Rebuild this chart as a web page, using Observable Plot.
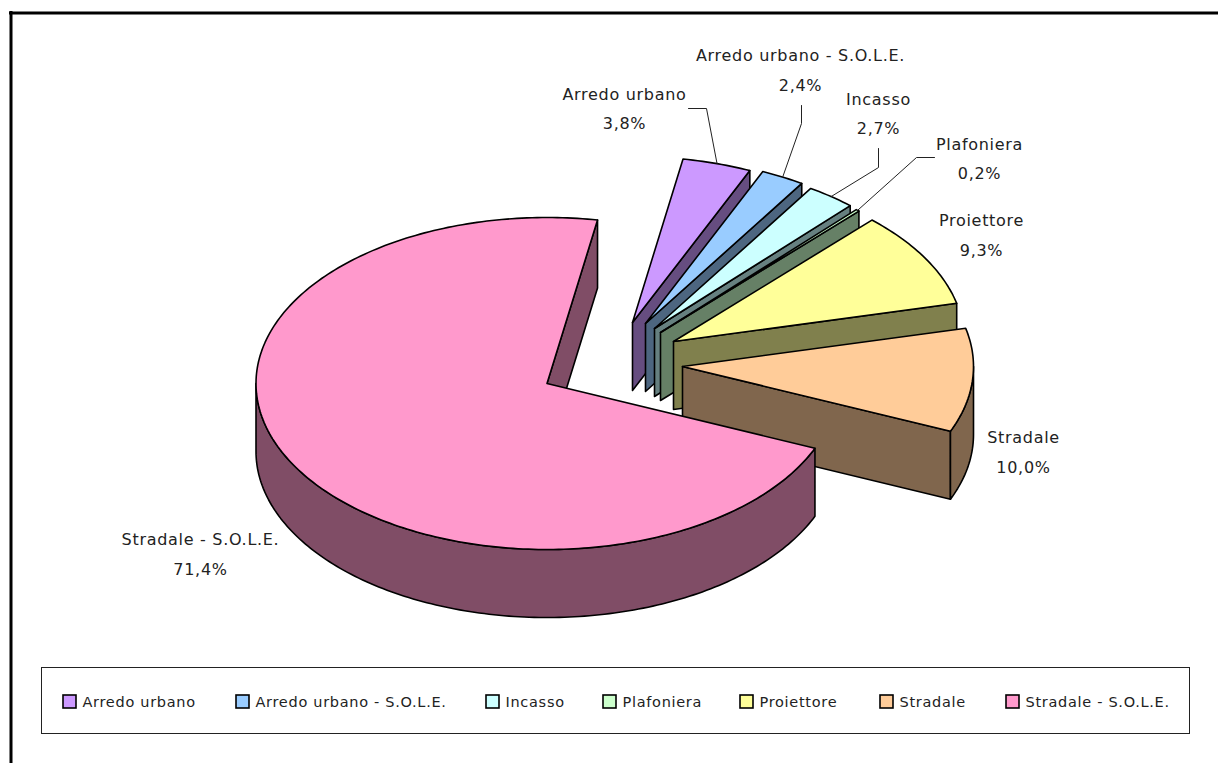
<!DOCTYPE html>
<html>
<head>
<meta charset="utf-8">
<script src="https://cdn.jsdelivr.net/npm/d3@7"></script>
<script src="https://cdn.jsdelivr.net/npm/@observablehq/plot@0.6"></script>
<style>
html,body{margin:0;padding:0;background:#fff}
svg{display:block}
.spaced text{letter-spacing:.7px}
</style>
</head>
<body>
<div id="chart"></div>
<script>
// Data
const names = ["Arredo urbano","Arredo urbano - S.O.L.E.","Incasso","Plafoniera","Proiettore","Stradale","Stradale - S.O.L.E."];
const shares = [3.8,2.4,2.7,0.2,9.3,10.0,71.4];
const colors = ["#CC99FF","#99CCFF","#CCFFFF","#CCFFCC","#FFFF99","#FFCC99","#FF99CC"];

// Layout of the drawing
const W = 1218, H = 763;
const rx = 291, ry = 166, depth = 68, firstAngle = 10;
const apexX = [632,645,654,660,673,682,546.5];
const apexY = [322,323,328,332,341,366,383];
const labelX = [624,800,878,979,981,1023,200];
const labelY = [104.5,66,109.5,154.5,231,448,550];
const leaderBends = [
  [[688,108],[706,108]],
  [[801,105],[801,123]],
  [[878,148],[878,167]],
  [[934,157],[916,157]],
  [],[],[]
];
const legendKeyX = [63,236,486,603,740,880,1006];
const FONT = "'DejaVu Sans',sans-serif";

// Shares are rounded to one decimal, so the small slices split what the large one leaves
const big = shares[6];
const smallScale = (100-big)/d3.sum(shares.slice(0,6));
let acc = firstAngle;
const slices = names.map((name,i)=>{
  const a0 = acc, a1 = acc + shares[i]*(i<6?smallScale:1)*3.6; acc = a1;
  const c = d3.rgb(colors[i]);
  return {name,i,share:shares[i],a0,a1,cx:apexX[i],cy:apexY[i],wall:d3.rgb(c.r*.5,c.g*.5,c.b*.5).formatHex()};
});
const pt = (s,a,dy=0)=>{const r=a*Math.PI/180;return [s.cx+rx*Math.sin(r), s.cy-ry*Math.cos(r)+dy];};
const arc = (s,a0,a1,dy=0)=>{
  const n=Math.max(2,Math.ceil(Math.abs(a1-a0)));
  return d3.range(n+1).map(k=>pt(s,a0+(a1-a0)*k/n,dy));
};
const poly = (points,opts)=>Plot.line(points,{x:d=>d[0],y:d=>d[1],curve:"linear-closed",stroke:"#000",strokeWidth:1.6,strokeLinejoin:"round",...opts});
const apex = (s,dy=0)=>[s.cx,s.cy+dy];

const marks = [];
// Chart border
marks.push(Plot.ruleX([10.5],{y1:11,y2:H,stroke:"#000",strokeWidth:3}));
marks.push(Plot.ruleY([12.5],{x1:9,x2:W,stroke:"#000",strokeWidth:3}));

// Slices, back to front
for (const s of slices){
  marks.push(poly([apex(s),pt(s,s.a1),pt(s,s.a1,depth),apex(s,depth)],{fill:s.wall}));
  if (s.i===6){
    marks.push(poly([...arc(s,s.a0,270),...arc(s,270,s.a0,depth)],{fill:s.wall}));
  } else if (s.a1>90){
    marks.push(poly([...arc(s,90,s.a1),...arc(s,s.a1,90,depth)],{fill:s.wall}));
  }
  marks.push(poly([apex(s),...arc(s,s.a0,s.a1)],{fill:()=>s.name}));
}

// Leader lines, from slice rim to label
slices.forEach((s,i)=>{
  if(!leaderBends[i].length) return;
  marks.push(Plot.line([...leaderBends[i],pt(s,(s.a0+s.a1)/2)],{x:d=>d[0],y:d=>d[1],stroke:"#222",strokeWidth:1}));
});

// Data labels
const fmt = v => v.toFixed(1).replace(".",",")+"%";
marks.push(Plot.text(slices,{
  x:(d,i)=>labelX[i], y:(d,i)=>labelY[i],
  text:d=>d.name+"\n"+fmt(d.share),
  fontFamily:FONT,fontSize:16,lineHeight:1.84,fill:"#222",textAnchor:"middle",className:"spaced"
}));

// Legend
marks.push(Plot.rect([0],{x1:41.5,x2:1189.5,y1:667.5,y2:733.5,fill:"none",stroke:"#222",strokeWidth:1}));
marks.push(Plot.rect(slices,{x1:(d,i)=>legendKeyX[i],x2:(d,i)=>legendKeyX[i]+13,y1:695,y2:708,fill:d=>d.name,stroke:"#000",strokeWidth:1.6}));
marks.push(Plot.text(slices,{x:(d,i)=>legendKeyX[i]+19,y:702,text:d=>d.name,fontFamily:FONT,fontSize:14.5,fill:"#222",textAnchor:"start",className:"spaced"}));

const chart = Plot.plot({
  width:W,height:H,margin:0,
  style:{background:"#fff"},
  x:{type:"identity",axis:null},
  y:{type:"identity",axis:null},
  color:{type:"ordinal",domain:names,range:colors},
  marks
});
document.getElementById("chart").append(chart);
</script>
</body>
</html>
